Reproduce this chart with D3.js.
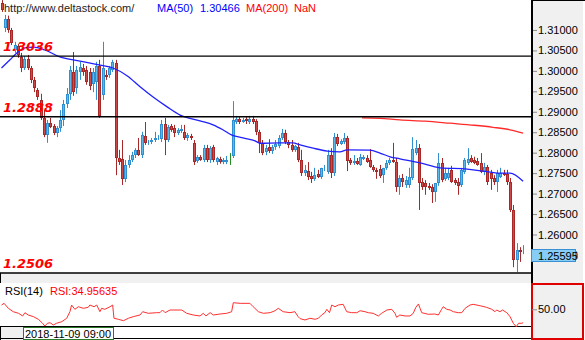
<!DOCTYPE html>
<html><head><meta charset="utf-8">
<script src="https://cdn.jsdelivr.net/npm/d3@7"></script>
<style>
html,body{margin:0;padding:0;background:#fff;overflow:hidden}
svg{display:block;font-family:"Liberation Sans",Arial,sans-serif}
</style></head><body>
<svg id="chart" width="585" height="340"></svg>
<script>
// GBP/USD hourly candles: [open, high, low, close]
const candles = [
[1.3166,1.3173,1.3144,1.3149],[1.3105,1.3137,1.3095,1.3127],[1.3127,1.3135,1.3093,1.3100],[1.3100,1.3105,1.3063,1.3068],
[1.3051,1.3071,1.3044,1.3063],[1.3061,1.3066,1.3032,1.3039],[1.3034,1.3044,1.2997,1.3007],[1.3007,1.3036,1.3002,1.3029],
[1.3029,1.3039,1.3002,1.3007],[1.3007,1.3012,1.2970,1.2978],[1.2978,1.2985,1.2948,1.2958],[1.2953,1.2958,1.2929,1.2936],
[1.2929,1.2944,1.2880,1.2885],[1.2885,1.2904,1.2838,1.2843],[1.2843,1.2880,1.2824,1.2873],[1.2873,1.2885,1.2860,1.2863],
[1.2865,1.2870,1.2843,1.2848],[1.2848,1.2865,1.2838,1.2860],[1.2860,1.2904,1.2851,1.2880],[1.2880,1.2929,1.2865,1.2919],
[1.2919,1.2958,1.2909,1.2944],[1.2944,1.3012,1.2929,1.3002],[1.2997,1.3046,1.2939,1.2948],[1.2958,1.3012,1.2944,1.3002],
[1.2997,1.3022,1.2978,1.3010],[1.3007,1.3017,1.2988,1.2997],[1.3002,1.3012,1.2966,1.2973],[1.2997,1.3007,1.2953,1.2963],
[1.2968,1.3007,1.2948,1.2997],[1.2973,1.3022,1.2929,1.3012],[1.3012,1.3027,1.2885,1.2890],[1.2941,1.3071,1.2929,1.3007],
[1.2990,1.3002,1.2978,1.2985],[1.2990,1.3012,1.2983,1.3007],[1.3002,1.3027,1.2997,1.3022],[1.3019,1.3027,1.2745,1.2787],
[1.2787,1.2807,1.2770,1.2777],[1.2785,1.2831,1.2721,1.2736],[1.2736,1.2782,1.2728,1.2770],[1.2770,1.2794,1.2763,1.2782],
[1.2782,1.2802,1.2777,1.2794],[1.2794,1.2811,1.2787,1.2807],[1.2807,1.2836,1.2792,1.2794],[1.2794,1.2851,1.2787,1.2843],
[1.2841,1.2875,1.2819,1.2824],[1.2824,1.2831,1.2819,1.2826],[1.2826,1.2836,1.2821,1.2831],[1.2831,1.2851,1.2826,1.2836],
[1.2836,1.2843,1.2831,1.2838],[1.2833,1.2880,1.2826,1.2870],[1.2870,1.2885,1.2794,1.2831],[1.2831,1.2868,1.2826,1.2863],
[1.2865,1.2870,1.2851,1.2856],[1.2860,1.2868,1.2838,1.2848],[1.2848,1.2860,1.2843,1.2856],[1.2853,1.2868,1.2848,1.2858],
[1.2851,1.2868,1.2831,1.2836],[1.2836,1.2848,1.2829,1.2843],[1.2841,1.2846,1.2831,1.2836],[1.2824,1.2831,1.2770,1.2777],
[1.2780,1.2794,1.2775,1.2790],[1.2790,1.2794,1.2780,1.2782],[1.2782,1.2819,1.2777,1.2811],[1.2811,1.2819,1.2777,1.2782],
[1.2782,1.2816,1.2775,1.2811],[1.2814,1.2819,1.2777,1.2782],[1.2777,1.2790,1.2770,1.2787],[1.2785,1.2790,1.2773,1.2776],
[1.2777,1.2787,1.2772,1.2782],[1.2777,1.2792,1.2772,1.2782],[1.2787,1.2799,1.2770,1.2787],[1.2792,1.2926,1.2787,1.2880],
[1.2875,1.2890,1.2870,1.2882],[1.2882,1.2887,1.2870,1.2875],[1.2875,1.2885,1.2873,1.2880],[1.2882,1.2887,1.2870,1.2878],
[1.2875,1.2890,1.2870,1.2882],[1.2882,1.2890,1.2870,1.2875],[1.2878,1.2882,1.2843,1.2851],[1.2851,1.2856,1.2799,1.2824],
[1.2824,1.2831,1.2794,1.2799],[1.2802,1.2819,1.2794,1.2811],[1.2814,1.2833,1.2799,1.2804],[1.2804,1.2819,1.2797,1.2814],
[1.2814,1.2831,1.2807,1.2821],[1.2816,1.2843,1.2811,1.2836],[1.2836,1.2858,1.2831,1.2848],[1.2848,1.2856,1.2821,1.2826],
[1.2826,1.2831,1.2811,1.2819],[1.2819,1.2831,1.2802,1.2807],[1.2807,1.2819,1.2802,1.2816],[1.2814,1.2824,1.2777,1.2782],
[1.2782,1.2807,1.2743,1.2750],[1.2750,1.2770,1.2743,1.2758],[1.2755,1.2777,1.2733,1.2741],[1.2743,1.2753,1.2726,1.2736],
[1.2736,1.2763,1.2731,1.2745],[1.2748,1.2758,1.2738,1.2741],[1.2741,1.2763,1.2736,1.2763],[1.2760,1.2770,1.2755,1.2763],
[1.2753,1.2807,1.2748,1.2794],[1.2794,1.2811,1.2738,1.2750],[1.2750,1.2848,1.2743,1.2838],[1.2838,1.2846,1.2816,1.2821],
[1.2821,1.2833,1.2819,1.2829],[1.2826,1.2848,1.2821,1.2836],[1.2836,1.2841,1.2755,1.2780],[1.2782,1.2787,1.2770,1.2775],
[1.2775,1.2794,1.2770,1.2780],[1.2780,1.2787,1.2770,1.2772],[1.2770,1.2797,1.2768,1.2790],[1.2785,1.2794,1.2782,1.2790],
[1.2787,1.2794,1.2775,1.2777],[1.2782,1.2809,1.2763,1.2765],[1.2765,1.2770,1.2753,1.2758],[1.2758,1.2763,1.2736,1.2753],
[1.2760,1.2770,1.2738,1.2743],[1.2745,1.2763,1.2726,1.2763],[1.2763,1.2782,1.2758,1.2775],[1.2775,1.2787,1.2770,1.2782],
[1.2782,1.2824,1.2775,1.2777],[1.2777,1.2787,1.2704,1.2716],[1.2716,1.2745,1.2697,1.2738],[1.2738,1.2748,1.2716,1.2728],
[1.2721,1.2743,1.2714,1.2733],[1.2721,1.2763,1.2714,1.2741],[1.2738,1.2838,1.2733,1.2809],[1.2799,1.2831,1.2794,1.2811],
[1.2811,1.2821,1.2660,1.2726],[1.2728,1.2738,1.2709,1.2716],[1.2726,1.2733,1.2697,1.2716],[1.2719,1.2726,1.2709,1.2714],
[1.2716,1.2723,1.2677,1.2704],[1.2704,1.2726,1.2680,1.2726],[1.2726,1.2799,1.2719,1.2775],[1.2775,1.2787,1.2728,1.2733],
[1.2736,1.2763,1.2731,1.2750],[1.2738,1.2763,1.2733,1.2750],[1.2758,1.2768,1.2726,1.2728],[1.2733,1.2738,1.2721,1.2726],
[1.2728,1.2738,1.2697,1.2719],[1.2721,1.2763,1.2716,1.2758],[1.2753,1.2787,1.2748,1.2782],[1.2775,1.2811,1.2770,1.2785],
[1.2787,1.2794,1.2775,1.2776],[1.2782,1.2790,1.2772,1.2775],[1.2780,1.2787,1.2768,1.2770],[1.2775,1.2799,1.2750,1.2753],
[1.2753,1.2775,1.2745,1.2765],[1.2765,1.2770,1.2721,1.2728],[1.2750,1.2758,1.2709,1.2736],[1.2738,1.2745,1.2721,1.2728],
[1.2728,1.2758,1.2704,1.2750],[1.2741,1.2763,1.2738,1.2750],[1.2750,1.2758,1.2743,1.2745],[1.2748,1.2758,1.2721,1.2728],
[1.2728,1.2738,1.2655,1.2660],[1.2660,1.2672,1.2520,1.2538],[1.2538,1.2579,1.2508,1.2562],[1.2562,1.2569,1.2533,1.2557],
[1.2557,1.2574,1.2552,1.25595]
];

// Moving averages: [candle index, value]
const ma50 = [[0,1.3007],[2.6,1.3027],[4.8,1.3044],[7.2,1.3056],[9.7,1.3058],[13.3,1.3051],[17.9,1.3034],[24.1,1.3024],
[30.2,1.3014],[34.2,1.3007],[38.5,1.2988],[42.5,1.2961],[46.5,1.2936],[50.8,1.2912],[54.8,1.2892],[60.9,1.2878],
[64.9,1.2868],[67.9,1.2856],[70.7,1.2843],[74.1,1.2836],[77.8,1.2829],[79.3,1.2823],[85.4,1.2824],[89.4,1.2824],
[91.6,1.2819],[95.6,1.2811],[99.9,1.2804],[103.8,1.2802],[106,1.2807],[113,1.2806],[116.1,1.2799],[119.2,1.2790],
[122.2,1.2785],[128.4,1.2775],[134.5,1.2763],[142.8,1.2760],[147.7,1.2755],[152.9,1.2750],[156,1.2750],[160,1.2730]];
const ma200 = [[110.6,1.2885],[116,1.2884],[122.2,1.2880],[130,1.2877],[137.6,1.2872],[145,1.2867],[150.8,1.2862],[156,1.2856],[160,1.2848]];

// RSI(14): [candle index, value]
const rsi = [[0,54.8],[0.8,56.7],[2.1,51.1],[3.6,47.3],[5.2,45.5],[6.5,42.5],[7.2,46.2],[8.2,43.6],[9.8,41.7],[11.3,38.8],
[12.6,34.3],[13.3,31.2],[14.1,34.3],[14.9,34.9],[15.9,32.4],[16.9,34.3],[18.5,36.1],[20,39.9],[21,47.3],[21.5,54.8],
[22.5,50],[23.6,52.9],[25.1,51.1],[26.6,52.2],[27.1,54.8],[28.4,52.9],[29.2,54.8],[30.2,47.3],[30.7,51.1],[31.7,50],
[33.3,52.9],[34.1,54.8],[34.5,39.9],[35.8,38.8],[37.4,37.2],[38.9,39.9],[40.4,41.7],[42.5,43.6],[43.3,47.3],[45,45.5],
[47.6,46.2],[48.6,46.2],[49.4,49.2],[50.2,46.2],[51.7,49.2],[55.3,49.2],[56.8,45.5],[58.8,43.6],[60.9,42.5],[61.9,45.5],
[62.7,42.5],[64,46.2],[65,43.6],[67,44.7],[69.1,45.5],[70.6,47.3],[71.1,57.4],[73.2,56.7],[76.2,56.7],[77.2,52.9],
[78.8,47.3],[80.3,45.5],[82.4,46.2],[83.9,48.4],[84.9,51.1],[86.4,47.3],[88.5,46.2],[90,47.3],[91,41.7],[91.6,39.5],
[93.1,38.0],[94.6,39.9],[96.2,38.8],[97.2,39.9],[98.2,43.6],[99.2,46.2],[99.8,50],[100.6,46.2],[101.3,54.8],[102.3,52.9],
[103.3,54.8],[104.8,55.6],[105.9,47.3],[107.4,46.2],[109,46.2],[110,48.4],[111.5,47.3],[112.5,46.2],[114,45.5],[115.6,42.5],
[116.6,45.5],[118.2,49.2],[119.7,50],[120.7,45.5],[121.2,41],[122.2,43.6],[123.8,42.5],[125.3,42.5],[126.3,45.5],[127.1,52.2],
[127.9,56],[128.4,51.1],[128.9,46.2],[130.9,44.4],[132.9,44.7],[134,43.6],[135,50],[135.5,52.9],[136.6,50],[137.6,49.2],
[138.6,47.3],[140.1,46.2],[141.2,46.2],[142.2,51.1],[143.7,54.8],[144.7,55.6],[146.8,54.0],[148.8,52.2],[150.4,50],[151.4,47.3],
[151.9,49.2],[152.9,47.3],[153.7,49.2],[155,46.2],[156,41.7],[157,34.3],[157.9,30.4],[158.6,34.3],[159.6,34.3],[160,34.95635]];

const priceTicks = [1.255,1.26,1.265,1.27,1.275,1.28,1.285,1.29,1.295,1.30,1.305,1.31];
const levels = [1.3036, 1.2888, 1.2506];
const rsiTicks = [50];
const lastPrice = 1.25595;
const ma50Value = 1.30466;
const ma200Value = "NaN";
const rsiValue = 34.95635;
const siteLabel = "http://www.deltastock.com/";
const timeLabel = "2018-11-09 09:00";

const svg = d3.select("#chart");
const plotW = 531, mainBottom = 273, rsiTop = 283, rsiBottom = 327;

const x = d3.scaleLinear().domain([0, candles.length - 1]).range([1.5, 523.1]);
const y = d3.scaleLinear().domain([1.25, 1.315]).range([275.4, 9.5]);
const yr = d3.scaleLinear().domain([30, 60]).range([327.1, 300.4]);

const defs = svg.append("defs");
defs.append("clipPath").attr("id", "clipMain").append("rect").attr("x", 0).attr("y", 0).attr("width", plotW).attr("height", mainBottom);
defs.append("clipPath").attr("id", "clipRsi").append("rect").attr("x", 0).attr("y", rsiTop).attr("width", plotW).attr("height", rsiBottom - rsiTop);

// panels
svg.append("rect").attr("x", 0).attr("y", 0).attr("width", 585).attr("height", 340).attr("fill", "#fff");
svg.append("rect").attr("x", plotW).attr("y", 0).attr("width", 52).attr("height", rsiTop).attr("fill", "#f0f0f0");
svg.append("rect").attr("x", 0).attr("y", mainBottom).attr("width", plotW).attr("height", rsiTop - mainBottom).attr("fill", "#f0f0f0");
svg.append("rect").attr("x", 0).attr("y", rsiBottom).attr("width", 23).attr("height", 13).attr("fill", "#f0f0f0");

// price axis
const axis = svg.append("g").attr("transform", `translate(${plotW + 1},0)`)
  .call(d3.axisRight(y).tickValues(priceTicks).tickSize(5).tickPadding(1).tickFormat(d3.format(".5f")));
axis.select(".domain").remove();
axis.selectAll(".tick line").attr("stroke", "#8c8c8c");
axis.selectAll(".tick text").attr("fill", "#000").attr("font-size", 11).attr("font-family", "Liberation Sans, Arial, sans-serif");

// panel borders
svg.append("line").attr("x1", plotW + 1).attr("x2", plotW + 1).attr("y1", 0).attr("y2", rsiTop).attr("stroke", "#000").attr("stroke-width", 2);
svg.append("line").attr("x1", plotW).attr("x2", 585).attr("y1", 0.5).attr("y2", 0.5).attr("stroke", "#000");
svg.append("line").attr("x1", 0.5).attr("x2", 0.5).attr("y1", mainBottom).attr("y2", rsiTop).attr("stroke", "#000");
svg.append("line").attr("x1", 0.5).attr("x2", 0.5).attr("y1", rsiBottom).attr("y2", 340).attr("stroke", "#000");
svg.append("line").attr("x1", 0).attr("x2", plotW).attr("y1", rsiBottom - 0.5).attr("y2", rsiBottom - 0.5).attr("stroke", "#000");
svg.append("line").attr("x1", 0).attr("x2", plotW).attr("y1", 338.5).attr("y2", 338.5).attr("stroke", "#000");

// header
const hdr = svg.append("g").attr("font-size", 11);
hdr.append("text").attr("x", 4).attr("y", 12).attr("fill", "#222").text(siteLabel);
hdr.append("text").attr("x", 157).attr("y", 12).attr("fill", "#0000ff").text("MA(50)");
hdr.append("text").attr("x", 200).attr("y", 12).attr("fill", "#0000ff").text(d3.format(".5f")(ma50Value));
hdr.append("text").attr("x", 246).attr("y", 12).attr("fill", "#ff0000").text("MA(200)");
hdr.append("text").attr("x", 294).attr("y", 12).attr("fill", "#ff0000").text(ma200Value);

// candles
const gC = svg.append("g").attr("clip-path", "url(#clipMain)");
const colorOf = d => d[3] > d[0] ? {fill: "#5ab9ea", stroke: "#2f8fcf"} : d[3] < d[0] ? {fill: "#cd4848", stroke: "#a82828"} : {fill: "#1f8f1f", stroke: "#1f8f1f"};
candles.forEach((d, i) => {
  const cx = Math.round(x(i));
  const c = colorOf(d);
  gC.append("line").attr("x1", cx + 0.5).attr("x2", cx + 0.5).attr("y1", y(d[1])).attr("y2", y(d[2])).attr("stroke", c.stroke);
  const top = Math.round(y(Math.max(d[0], d[3])));
  const bot = Math.round(y(Math.min(d[0], d[3])));
  gC.append("rect").attr("x", cx - 0.5).attr("y", top + 0.5).attr("width", 2).attr("height", Math.max(bot - top - 1, 0))
    .attr("fill", c.fill).attr("stroke", c.stroke);
});

// moving averages
const maLine = d3.line().x(d => x(d[0])).y(d => y(d[1])).curve(d3.curveMonotoneX);
gC.append("path").datum(ma200).attr("d", maLine).attr("fill", "none").attr("stroke", "#ff2a2a").attr("stroke-width", 1.3);
gC.append("path").datum(ma50).attr("d", maLine).attr("fill", "none").attr("stroke", "#2020ff").attr("stroke-width", 1.3);

// support / resistance levels
levels.forEach(v => {
  svg.append("line").attr("x1", 0).attr("x2", plotW).attr("y1", y(v)).attr("y2", y(v)).attr("stroke", "#000").attr("stroke-width", 1.4);
  svg.append("text").attr("x", 3).attr("y", y(v) - 5).attr("fill", "#ff0000")
    .attr("font-family", "DejaVu Sans, Verdana, sans-serif").attr("font-weight", "bold").attr("font-style", "italic")
    .attr("font-size", 13).text(d3.format(".4f")(v));
});

// last price marker
const ly = Math.round(y(lastPrice));
svg.append("rect").attr("x", plotW + 0.5).attr("y", ly - 1.5).attr("width", 44).attr("height", 12).attr("fill", "#87cdf5").attr("stroke", "#3a90d0");
svg.append("text").attr("x", 538).attr("y", ly + 9).attr("font-size", 11).attr("fill", "#000").text(d3.format(".5f")(lastPrice));

// RSI panel
svg.append("text").attr("x", 5).attr("y", 295).attr("font-size", 11).attr("fill", "#000").text("RSI(14)");
svg.append("text").attr("x", 50).attr("y", 295).attr("font-size", 11).attr("fill", "#ff0000").text("RSI:" + d3.format(".5f")(rsiValue));
svg.append("g").attr("clip-path", "url(#clipRsi)").append("path").datum(rsi)
  .attr("d", d3.line().x(d => x(d[0])).y(d => yr(d[1])))
  .attr("fill", "none").attr("stroke", "#ff3030").attr("stroke-width", 1);

svg.append("rect").attr("x", plotW + 1).attr("y", rsiTop + 1).attr("width", 51).attr("height", 55).attr("fill", "#f0f0f0").attr("stroke", "#e00000").attr("stroke-width", 2);
const raxis = svg.append("g").attr("transform", `translate(${plotW + 1},0)`)
  .call(d3.axisRight(yr).tickValues(rsiTicks).tickSize(5).tickPadding(1).tickFormat(d3.format(".2f")));
raxis.select(".domain").remove();
raxis.selectAll(".tick line").attr("stroke", "#8c8c8c");
raxis.selectAll(".tick text").attr("fill", "#000").attr("font-size", 11).attr("font-family", "Liberation Sans, Arial, sans-serif");

// time cursor label
svg.append("rect").attr("x", 23.5).attr("y", rsiBottom + 0.5).attr("width", 90).attr("height", 12).attr("fill", "#fff").attr("stroke", "#2a7a2a");
svg.append("text").attr("x", 25).attr("y", 337.5).attr("font-size", 11).attr("fill", "#000").text(timeLabel);
</script></body></html>
